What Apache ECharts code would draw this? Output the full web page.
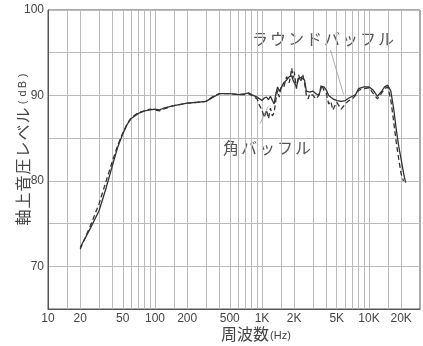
<!DOCTYPE html>
<html>
<head>
<meta charset="utf-8">
<script src="https://cdn.jsdelivr.net/npm/echarts@6/dist/echarts.min.js"></script>
<style>
  html, body { margin: 0; padding: 0; background: #fff; }
  #chart { width: 423px; height: 346px; }
</style>
</head>
<body>
<div id="chart"></div>
<script>
// frequency points (Hz)
var freqs = [20, 25, 30, 35, 40, 45, 50, 55, 60, 70, 80, 90, 100, 110, 120, 150, 200, 250, 300, 350,
  400, 500, 600, 700, 750, 800, 900, 950, 1000, 1050, 1100, 1150, 1200, 1250, 1300, 1350, 1400, 1450,
  1500, 1600, 1700, 1800, 1900, 1950, 2000, 2100, 2200, 2300, 2400, 2500, 2600, 2700, 2800, 3000,
  3200, 3400, 3600, 3800, 4000, 4200, 4400, 4600, 4800, 5000, 5500, 6000, 6500, 7000, 7500, 8000,
  9000, 10000, 11000, 12000, 13000, 14000, 15000, 16000, 17000, 18000, 19000, 20000, 21000, 22000];

// ラウンドバッフル (solid)
var roundBaffle = [72.2, 74.5, 76.5, 79.2, 81.8, 84.0, 85.5, 86.6, 87.3, 87.9, 88.2, 88.3, 88.4, 88.3, 88.5, 88.8, 89.1, 89.2, 89.3, 89.8,
  90.2, 90.2, 90.1, 90.2, 90.3, 90.1, 89.8, 89.6, 89.4, 89.7, 89.8, 89.5, 89.9, 89.4, 89.0, 90.2, 91.0, 90.5,
  90.8, 91.5, 91.8, 92.2, 92.3, 91.8, 92.0, 91.0, 92.0, 92.1, 92.0, 91.8, 90.5, 90.4, 90.4, 90.5,
  90.2, 90.0, 91.0, 91.0, 90.6, 90.0, 89.8, 89.6, 89.5, 89.4, 89.3, 89.4, 89.7, 89.9, 90.1, 90.8,
  91.0, 91.0, 90.6, 89.9, 90.4, 91.0, 91.2, 90.5, 88.5, 86.0, 84.0, 82.5, 81.0, 79.8];

// 角バッフル (dashed)
var squareBaffle = [72.0, 74.8, 77.3, 80.0, 82.3, 84.2, 85.6, 86.7, 87.4, 88.0, 88.2, 88.4, 88.3, 88.2, 88.4, 88.8, 89.1, 89.2, 89.3, 89.9,
  90.2, 90.2, 90.1, 90.1, 90.2, 90.0, 89.6, 88.8, 88.3, 87.4, 88.3, 87.3, 88.5, 87.6, 88.0, 89.5, 90.6, 89.8,
  90.9, 91.0, 92.2, 91.5, 93.2, 92.0, 92.8, 90.8, 92.4, 91.6, 92.5, 91.5, 90.0, 89.6, 90.2, 90.0,
  89.6, 90.0, 91.3, 90.6, 90.2, 89.0, 89.3, 88.3, 88.8, 89.2, 88.4, 89.0, 89.4, 89.6, 90.0, 90.6,
  90.8, 90.9, 90.2, 89.6, 90.2, 90.8, 91.0, 89.5, 87.0, 84.5, 82.5, 80.8, 80.0, null];

// vertical grid lines and tick labels of the log paper
var gridFreqs = [15, 20, 30, 40, 50, 60, 70, 80, 90, 100, 150, 200, 300, 400, 500, 600, 700, 800, 900,
  1000, 1500, 2000, 3000, 4000, 5000, 6000, 7000, 8000, 9000, 10000, 15000, 20000];
var labelFreqs = [10, 20, 50, 100, 200, 500, 1000, 2000, 5000, 10000, 20000];

// leader lines for the two notes [freq, dB]
var roundLeader = [[4370, 95.3], [5800, 90.1]];
var squareLeader = [[960, 86.7], [1140, 88.7]];

function pairs(ys) {
  return freqs.map(function (f, i) { return [f, ys[i]]; });
}

function spaced(txt, key) {
  return txt.split('').map(function (ch) { return '{' + key + '|' + ch + '}'; }).join('');
}

var jp = 'Noto Sans CJK JP';

var noteStyle = {
  fill: '#555',
  fontFamily: jp,
  fontSize: 16,
  rich: { c: { width: 18, align: 'center', fontSize: 16, fontFamily: jp, color: '#555' } }
};

var chart = echarts.init(document.getElementById('chart'), null, { renderer: 'canvas' });

chart.setOption({
  backgroundColor: '#fff',
  animation: false,
  grid: {
    left: 48, right: 3, top: 10, bottom: 37,
    outerBoundsMode: 'none', containLabel: false,
    show: true, borderColor: '#555', borderWidth: 1
  },
  xAxis: {
    type: 'log',
    logBase: 10,
    min: 10,
    max: 30000,
    name: '{a|周波数}{b|(Hz)}',
    nameLocation: 'middle',
    nameGap: 17,
    nameMoveOverlap: false,
    nameTextStyle: {
      padding: [0, 0, 0, 44],
      rich: {
        a: { fontSize: 16, fontFamily: jp, color: '#444' },
        b: { fontSize: 11, fontFamily: 'Liberation Sans', color: '#444', padding: [3, 0, 0, 1] }
      }
    },
    axisLine: { lineStyle: { color: '#555', width: 1 } },
    axisTick: { show: false, customValues: gridFreqs },
    axisLabel: {
      customValues: labelFreqs,
      margin: 4,
      fontSize: 12,
      fontFamily: 'Liberation Sans',
      color: '#444',
      formatter: function (v) {
        v = Math.round(v);
        return v >= 1000 ? (v / 1000) + 'K' : String(v);
      }
    },
    splitLine: { show: true, lineStyle: { color: '#bbb', width: 1 } },
    minorTick: { show: false },
    minorSplitLine: { show: false }
  },
  yAxis: {
    type: 'value',
    min: 65,
    max: 100,
    interval: 5,
    name: spaced('軸上音圧レベル', 'a') + spaced('(dB)', 'b'),
    nameLocation: 'middle',
    nameGap: 17,
    nameMoveOverlap: false,
    nameTextStyle: {
      padding: [0, 0, 0, 22],
      rich: {
        a: { width: 17, align: 'center', fontSize: 16, fontFamily: jp, color: '#444' },
        b: { width: 9, align: 'center', fontSize: 11, fontFamily: 'Liberation Sans', color: '#444' }
      }
    },
    axisLine: { show: true, lineStyle: { color: '#555', width: 1 } },
    axisTick: { show: false },
    axisLabel: {
      margin: 4,
      fontSize: 12,
      fontFamily: 'Liberation Sans',
      color: '#444',
      formatter: function (v) { return v % 10 === 0 ? String(v) : ''; }
    },
    splitLine: { show: true, lineStyle: { color: '#bbb', width: 1 } }
  },
  series: [
    {
      name: 'ラウンドバッフル',
      type: 'line',
      data: pairs(roundBaffle),
      showSymbol: false,
      lineStyle: { color: '#333', width: 1.3 },
      z: 3,
      markLine: {
        silent: true,
        symbol: 'none',
        label: { show: false },
        lineStyle: { color: '#999', width: 0.8, type: 'solid' },
        data: [
          [{ coord: roundLeader[0] }, { coord: roundLeader[1] }],
          [{ coord: squareLeader[0] }, { coord: squareLeader[1] }]
        ]
      }
    },
    {
      name: '角バッフル',
      type: 'line',
      data: pairs(squareBaffle),
      showSymbol: false,
      connectNulls: false,
      lineStyle: { color: '#333', width: 1.3, type: [5, 3] },
      z: 2
    }
  ],
  graphic: [
    {
      type: 'text', left: 252, top: 31,
      style: Object.assign({ text: spaced('ラウンドバッフル', 'c') }, noteStyle)
    },
    {
      type: 'text', left: 223, top: 140,
      style: Object.assign({ text: spaced('角バッフル', 'c') }, noteStyle)
    }
  ]
});
</script>
</body>
</html>
